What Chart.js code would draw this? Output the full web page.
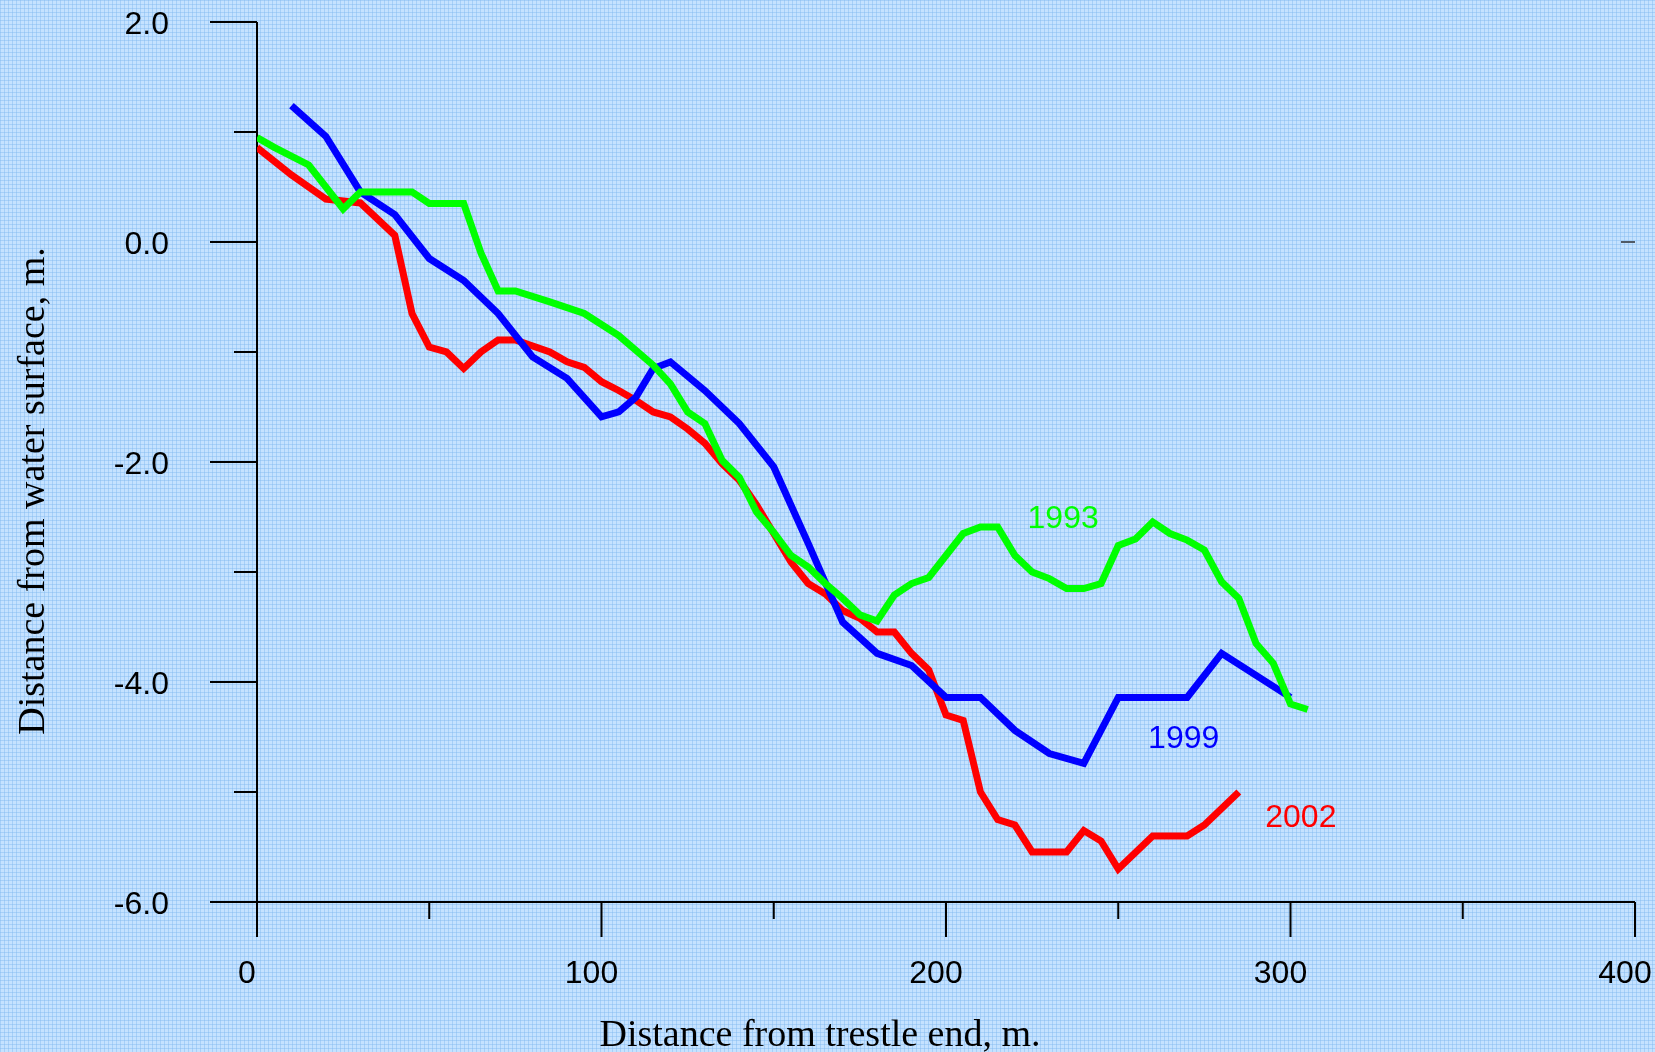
<!DOCTYPE html>
<html>
<head>
<meta charset="utf-8">
<script src="https://cdn.jsdelivr.net/npm/chart.js@4.4.1/dist/chart.umd.min.js"></script>
<style>
  html, body {
    margin: 0;
    padding: 0;
    overflow: hidden;
  }
  body {
    background-color: #c5e2ff;
    background-image:
      linear-gradient(to right, rgba(130, 185, 240, 0.45) 1px, transparent 1px),
      linear-gradient(to bottom, rgba(130, 185, 240, 0.45) 1px, transparent 1px);
    background-size: 4px 4px;
  }
  canvas { display: block; }
</style>
</head>
<body>
<canvas id="myChart_Profile" width="1655" height="1052"></canvas>
<script>
// survey years
var years = ["1993", "1999", "2002"];

// 1993 profile
var dist1993 = [0, 5, 15, 25, 30, 45, 50, 60, 65, 70, 75, 85, 95, 105, 115, 120, 125, 130, 135, 140,
  145, 150, 155, 160, 165, 170, 175, 180, 185, 190, 195, 205, 210, 215, 220, 225, 230, 235, 240, 245,
  250, 255, 260, 265, 270, 275, 280, 285, 290, 295, 300, 305];
var depth1993 = [0.95, 0.86, 0.70, 0.30, 0.455, 0.455, 0.35, 0.35, -0.10, -0.445, -0.445, -0.545, -0.65, -0.85, -1.12, -1.29, -1.545, -1.65, -1.985, -2.14,
  -2.455, -2.64, -2.85, -2.955, -3.105, -3.24, -3.39, -3.445, -3.21, -3.105, -3.05, -2.65, -2.59, -2.59, -2.85, -3.0, -3.06, -3.15, -3.15, -3.105,
  -2.76, -2.70, -2.545, -2.65, -2.71, -2.80, -3.09, -3.24, -3.65, -3.83, -4.20, -4.25];

// 1999 profile
var dist1999 = [10, 20, 30, 40, 50, 60, 70, 80, 90, 100, 105, 110, 115, 120, 130, 140, 150, 160, 170, 180,
  190, 200, 210, 220, 230, 240, 250, 270, 280, 300];
var depth1999 = [1.24, 0.96, 0.455, 0.25, -0.15, -0.35, -0.65, -1.045, -1.24, -1.59, -1.545, -1.41, -1.15, -1.09, -1.35, -1.65, -2.045, -2.74, -3.455, -3.74,
  -3.85, -4.14, -4.14, -4.44, -4.65, -4.74, -4.14, -4.14, -3.74, -4.14];

// 2002 profile
var dist2002 = [0, 10, 20, 30, 40, 45, 50, 55, 60, 65, 70, 75, 85, 90, 95, 100, 105, 110, 115, 120,
  125, 130, 135, 140, 145, 150, 155, 160, 165, 170, 175, 180, 185, 190, 195, 200, 205, 210, 215, 220,
  225, 235, 240, 245, 250, 260, 270, 275, 285];
var depth2002 = [0.86, 0.61, 0.39, 0.355, 0.06, -0.65, -0.955, -1.0, -1.15, -1.0, -0.89, -0.89, -1.0, -1.09, -1.14, -1.27, -1.35, -1.44, -1.545, -1.59,
  -1.70, -1.83, -2.015, -2.165, -2.39, -2.65, -2.91, -3.105, -3.2, -3.35, -3.42, -3.545, -3.545, -3.74, -3.89, -4.30, -4.35, -5.0, -5.25, -5.30,
  -5.545, -5.545, -5.35, -5.445, -5.70, -5.40, -5.40, -5.30, -5.0];

// year labels placed next to each curve (data coordinates)
var labelX = [234, 269, 303];
var labelY = [-2.5, -4.5, -5.22];

var xTitle = "Distance from trestle end, m.";
var yTitle = "Distance from water surface, m.";

var colors = ["rgb(0, 255, 0)", "rgb(0, 0, 255)", "rgb(255, 0, 0)"];

function toPoints(xs, ys) {
  var pts = [];
  for (var i = 0; i < xs.length; i++) {
    pts.push({ x: xs[i], y: ys[i] });
  }
  return pts;
}

// axes drawn by hand: crossing lines, long major / short minor ticks
var axesPlugin = {
  id: "crossAxes",
  beforeDatasetsDraw: function (chart) {
    var c = chart.ctx;
    var xs = chart.scales.x;
    var ys = chart.scales.y;
    var x0 = xs.getPixelForValue(0);
    var xEnd = xs.getPixelForValue(400);
    var yTop = ys.getPixelForValue(2);
    var yBot = ys.getPixelForValue(-6);
    c.save();
    c.strokeStyle = "#000";
    c.lineWidth = 2;
    c.beginPath();
    c.moveTo(x0 - 47, yBot);
    c.lineTo(xEnd, yBot);
    c.moveTo(x0, yTop);
    c.lineTo(x0, yBot + 35);
    for (var v = -6; v <= 2; v++) {
      var py = ys.getPixelForValue(v);
      c.moveTo(x0, py);
      c.lineTo(x0 - (v % 2 === 0 ? 47 : 23), py);
    }
    for (var u = 50; u <= 400; u += 50) {
      var px = xs.getPixelForValue(u);
      c.moveTo(px, yBot);
      c.lineTo(px, yBot + (u % 100 === 0 ? 35 : 17));
    }
    c.stroke();
    // small mark on the right at zero level
    c.strokeStyle = "#505a66";
    c.beginPath();
    c.moveTo(xEnd - 14, ys.getPixelForValue(0));
    c.lineTo(xEnd, ys.getPixelForValue(0));
    c.stroke();
    c.restore();
  },
  afterDraw: function (chart) {
    var c = chart.ctx;
    var xs = chart.scales.x;
    var ys = chart.scales.y;
    c.save();
    c.font = "32px 'Liberation Sans', Arial, sans-serif";
    c.textAlign = "center";
    c.textBaseline = "alphabetic";
    for (var i = 0; i < years.length; i++) {
      c.fillStyle = colors[i];
      c.fillText(years[i], xs.getPixelForValue(labelX[i]), ys.getPixelForValue(labelY[i]) + 11);
    }
    c.fillStyle = "#000";
    c.font = "38px 'Liberation Serif', 'Times New Roman', serif";
    c.fillText(xTitle, 820, 1046);
    c.translate(44, 491);
    c.rotate(-Math.PI / 2);
    c.fillText(yTitle, 0, 0);
    c.restore();
  },
};

window.onload = function () {
  var ctx = document.getElementById("myChart_Profile").getContext("2d");
  var tickFont = { family: "'Liberation Sans', Arial, sans-serif", size: 32 };

  var datasets = [
    toPoints(dist1993, depth1993),
    toPoints(dist1999, depth1999),
    toPoints(dist2002, depth2002),
  ].map(function (pts, i) {
    return {
      label: years[i],
      data: pts,
      borderColor: colors[i],
      borderWidth: 7,
      pointRadius: 0,
      fill: false,
      tension: 0,
    };
  });

  var myChart = new Chart(ctx, {
    type: "line",
    data: { datasets: datasets },
    options: {
      responsive: false,
      animation: false,
      layout: { padding: { left: 0, right: 20, top: 22, bottom: 0 } },
      plugins: {
        legend: { display: false },
        tooltip: { enabled: false },
      },
      scales: {
        x: {
          type: "linear",
          min: 0,
          max: 400,
          grid: { display: false, drawTicks: false },
          border: { display: false },
          ticks: {
            stepSize: 50,
            autoSkip: false,
            maxRotation: 0,
            padding: 53,
            labelOffset: -10,
            color: "#000",
            font: tickFont,
            callback: function (v) {
              return v % 100 === 0 ? String(v) : "";
            },
          },
          afterFit: function (s) {
            s.height = 150;
            s.paddingLeft = 0;
            s.paddingRight = 0;
          },
        },
        y: {
          min: -6,
          max: 2,
          grid: { display: false, drawTicks: false },
          border: { display: false },
          ticks: {
            stepSize: 1,
            autoSkip: false,
            padding: 88,
            labelOffset: 3,
            color: "#000",
            font: tickFont,
            callback: function (v) {
              return v % 2 === 0 ? v.toFixed(1) : "";
            },
          },
          afterFit: function (s) {
            s.width = 257;
            s.paddingTop = 0;
            s.paddingBottom = 0;
          },
        },
      },
    },
    plugins: [axesPlugin],
  });
};
</script>
</body>
</html>
